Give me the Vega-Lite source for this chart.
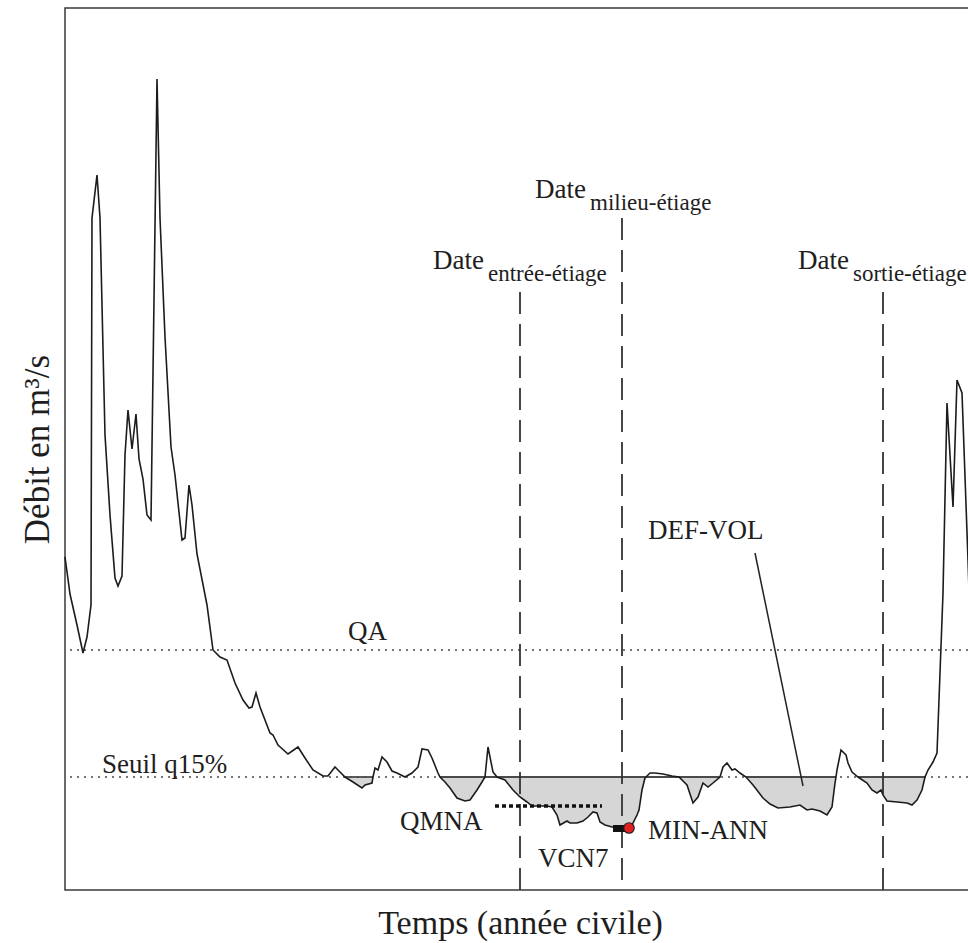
{
  "$schema": "https://vega.github.io/schema/vega-lite/v6.json",
  "width": 910,
  "height": 882,
  "autosize": "none",
  "padding": {"left": 65, "top": 8, "right": 0, "bottom": 53},
  "background": "white",
  "config": {
    "view": {"stroke": "#3a3a3a", "strokeWidth": 1.5},
    "axis": {"labels": false, "ticks": false, "domain": false, "grid": false, "titleFont": "Liberation Serif, serif", "titleFontSize": 34, "titleFontWeight": "normal", "titleColor": "#1e1e1e"},
    "axisX": {"titlePadding": 16},
    "axisY": {"titlePadding": 10, "titleFontSize": 35},
    "text": {"font": "Liberation Serif, serif"},
    "mark": {"font": "Liberation Serif, serif"}
  },
  "datasets": {
    "flow": [
      {"t": 0, "q": 333}, {"t": 5, "q": 296}, {"t": 12, "q": 265}, {"t": 18, "q": 237}, {"t": 22, "q": 253}, {"t": 26, "q": 285},
      {"t": 27, "q": 672}, {"t": 32, "q": 715}, {"t": 35, "q": 672}, {"t": 40, "q": 455}, {"t": 45, "q": 375}, {"t": 50, "q": 312},
      {"t": 53, "q": 304}, {"t": 57, "q": 314}, {"t": 60, "q": 435}, {"t": 63, "q": 480}, {"t": 67, "q": 441}, {"t": 71, "q": 476},
      {"t": 74, "q": 431}, {"t": 78, "q": 411}, {"t": 82, "q": 375}, {"t": 86, "q": 370}, {"t": 92, "q": 811}, {"t": 95, "q": 672},
      {"t": 100, "q": 553}, {"t": 106, "q": 443}, {"t": 110, "q": 415}, {"t": 117, "q": 350}, {"t": 120, "q": 352}, {"t": 124, "q": 405},
      {"t": 127, "q": 385}, {"t": 132, "q": 336}, {"t": 142, "q": 285}, {"t": 148, "q": 240}, {"t": 155, "q": 233}, {"t": 162, "q": 230},
      {"t": 170, "q": 207}, {"t": 178, "q": 190}, {"t": 184, "q": 182}, {"t": 187, "q": 183}, {"t": 191, "q": 197}, {"t": 195, "q": 183},
      {"t": 205, "q": 157}, {"t": 208, "q": 155}, {"t": 213, "q": 145}, {"t": 223, "q": 136}, {"t": 233, "q": 143}, {"t": 240, "q": 132},
      {"t": 248, "q": 120}, {"t": 258, "q": 114}, {"t": 263, "q": 114}, {"t": 270, "q": 123}, {"t": 273, "q": 120},
      {"t": 280, "q": 113, "seg": "A"}, {"t": 288, "q": 108, "seg": "A"}, {"t": 297, "q": 102, "seg": "A"}, {"t": 300, "q": 105, "seg": "A"}, {"t": 307, "q": 107, "seg": "A"}, {"t": 308, "q": 113, "seg": "A"},
      {"t": 310, "q": 122}, {"t": 313, "q": 120}, {"t": 317, "q": 133}, {"t": 322, "q": 128}, {"t": 327, "q": 119}, {"t": 332, "q": 117},
      {"t": 340, "q": 113}, {"t": 347, "q": 117}, {"t": 353, "q": 123}, {"t": 357, "q": 141}, {"t": 363, "q": 140}, {"t": 367, "q": 132}, {"t": 373, "q": 117},
      {"t": 375, "q": 113, "seg": "C"}, {"t": 380, "q": 108, "seg": "C"}, {"t": 385, "q": 102, "seg": "C"}, {"t": 392, "q": 92, "seg": "C"}, {"t": 400, "q": 89, "seg": "C"},
      {"t": 405, "q": 90, "seg": "C"}, {"t": 412, "q": 100, "seg": "C"}, {"t": 417, "q": 108, "seg": "C"}, {"t": 420, "q": 113, "seg": "C"},
      {"t": 423, "q": 143}, {"t": 428, "q": 118},
      {"t": 432, "q": 113, "seg": "D"}, {"t": 440, "q": 110, "seg": "D"}, {"t": 448, "q": 100, "seg": "D"}, {"t": 455, "q": 93, "seg": "D"}, {"t": 462, "q": 88, "seg": "D"},
      {"t": 467, "q": 84, "seg": "D"}, {"t": 473, "q": 84, "seg": "D"}, {"t": 482, "q": 84, "seg": "D"}, {"t": 487, "q": 83, "seg": "D"}, {"t": 492, "q": 75, "seg": "D"},
      {"t": 495, "q": 65, "seg": "D"}, {"t": 502, "q": 69, "seg": "D"}, {"t": 505, "q": 67, "seg": "D"}, {"t": 512, "q": 67, "seg": "D"}, {"t": 518, "q": 69, "seg": "D"},
      {"t": 523, "q": 73, "seg": "D"}, {"t": 528, "q": 78, "seg": "D"}, {"t": 532, "q": 77, "seg": "D"}, {"t": 535, "q": 68, "seg": "D"}, {"t": 540, "q": 65, "seg": "D"},
      {"t": 547, "q": 63, "seg": "D"}, {"t": 555, "q": 63, "seg": "D"}, {"t": 563, "q": 62, "seg": "D"}, {"t": 568, "q": 67, "seg": "D"}, {"t": 572, "q": 75, "seg": "D"},
      {"t": 574, "q": 80, "seg": "D"}, {"t": 577, "q": 100, "seg": "D"}, {"t": 580, "q": 112, "seg": "D"}, {"t": 581, "q": 113, "seg": "D"},
      {"t": 585, "q": 117}, {"t": 590, "q": 117}, {"t": 598, "q": 116}, {"t": 607, "q": 114},
      {"t": 614, "q": 113, "seg": "E"}, {"t": 622, "q": 105, "seg": "E"}, {"t": 628, "q": 87, "seg": "E"}, {"t": 633, "q": 93, "seg": "E"}, {"t": 638, "q": 107, "seg": "E"},
      {"t": 643, "q": 103, "seg": "E"}, {"t": 648, "q": 107, "seg": "E"}, {"t": 655, "q": 113, "seg": "E"},
      {"t": 658, "q": 123}, {"t": 662, "q": 127}, {"t": 667, "q": 120}, {"t": 670, "q": 121}, {"t": 675, "q": 117},
      {"t": 681, "q": 113, "seg": "F"}, {"t": 688, "q": 105, "seg": "F"}, {"t": 698, "q": 92, "seg": "F"}, {"t": 705, "q": 86, "seg": "F"}, {"t": 713, "q": 82, "seg": "F"},
      {"t": 725, "q": 83, "seg": "F"}, {"t": 735, "q": 85, "seg": "F"}, {"t": 742, "q": 80, "seg": "F"}, {"t": 747, "q": 81, "seg": "F"}, {"t": 755, "q": 79, "seg": "F"},
      {"t": 762, "q": 75, "seg": "F"}, {"t": 767, "q": 83, "seg": "F"}, {"t": 770, "q": 107, "seg": "F"}, {"t": 771, "q": 113, "seg": "F"},
      {"t": 772, "q": 120}, {"t": 776, "q": 140}, {"t": 781, "q": 135}, {"t": 783, "q": 127}, {"t": 787, "q": 118},
      {"t": 793, "q": 113, "seg": "G"}, {"t": 802, "q": 107, "seg": "G"}, {"t": 807, "q": 100, "seg": "G"}, {"t": 812, "q": 97, "seg": "G"}, {"t": 816, "q": 100, "seg": "G"},
      {"t": 818, "q": 95, "seg": "G"}, {"t": 822, "q": 89, "seg": "G"}, {"t": 832, "q": 88, "seg": "G"}, {"t": 842, "q": 87, "seg": "G"}, {"t": 847, "q": 85, "seg": "G"},
      {"t": 852, "q": 90, "seg": "G"}, {"t": 857, "q": 100, "seg": "G"}, {"t": 860, "q": 113, "seg": "G"},
      {"t": 863, "q": 120}, {"t": 868, "q": 128}, {"t": 872, "q": 137}, {"t": 878, "q": 297}, {"t": 882, "q": 487}, {"t": 888, "q": 383},
      {"t": 892, "q": 510}, {"t": 897, "q": 497}, {"t": 903, "q": 330}, {"t": 907, "q": 210}
    ],
    "hlines": [{"name": "QA", "q": 240}, {"name": "Seuil q15%", "q": 113}],
    "solid": [{"t": 280, "t2": 308}, {"t": 375, "t2": 655}, {"t": 681, "t2": 771}, {"t": 793, "t2": 860}],
    "vlines": [{"name": "entrée", "t": 455, "q": 598}, {"name": "milieu", "t": 557, "q": 672}, {"name": "sortie", "t": 818, "q": 598}],
    "qmna": [{"t": 430, "t2": 537, "q": 84}],
    "leader": [{"t": 690, "q": 337, "t2": 738, "q2": 104}],
    "vcn7": [{"t": 548, "t2": 560, "q": 58, "q2": 65}],
    "minann": [{"t": 564, "q": 62}],
    "labels": [
      {"text": "QA", "t": 283, "q": 250},
      {"text": "Seuil q15%", "t": 37, "q": 117},
      {"text": "QMNA", "t": 335, "q": 60},
      {"text": "VCN7", "t": 473, "q": 23},
      {"text": "MIN-ANN", "t": 583, "q": 51},
      {"text": "DEF-VOL", "t": 583, "q": 351},
      {"text": "Date", "t": 368, "q": 621},
      {"text": "Date", "t": 470, "q": 692},
      {"text": "Date", "t": 733, "q": 621}
    ],
    "subs": [
      {"text": "entrée-étiage", "t": 423, "q": 609},
      {"text": "milieu-étiage", "t": 525, "q": 680},
      {"text": "sortie-étiage", "t": 788, "q": 609}
    ]
  },
  "layer": [
    {
      "data": {"name": "flow"},
      "transform": [{"filter": "isValid(datum.seg)"}],
      "mark": {"type": "area", "color": "#d6d6d6", "opacity": 1},
      "encoding": {
        "x": {"field": "t", "type": "quantitative", "scale": {"domain": [0, 910], "nice": false, "zero": false}, "title": "Temps (année civile)"},
        "y": {"field": "q", "type": "quantitative", "scale": {"domain": [0, 882], "nice": false, "zero": false}, "title": "Débit en m³/s"},
        "y2": {"datum": 113},
        "detail": {"field": "seg"}
      }
    },
    {
      "data": {"name": "hlines"},
      "mark": {"type": "rule", "color": "#4a4a4a", "strokeWidth": 1.6, "strokeDash": [2, 5]},
      "encoding": {
        "y": {"field": "q", "type": "quantitative", "title": "Débit en m³/s"}
      }
    },
    {
      "data": {"name": "solid"},
      "mark": {"type": "rule", "color": "#4a4a4a", "strokeWidth": 1.8},
      "encoding": {
        "x": {"field": "t", "type": "quantitative", "title": "Temps (année civile)"},
        "x2": {"field": "t2"},
        "y": {"datum": 113, "type": "quantitative"}
      }
    },
    {
      "data": {"name": "vlines"},
      "mark": {"type": "rule", "color": "#333333", "strokeWidth": 1.8, "strokeDash": [22, 10]},
      "encoding": {
        "x": {"field": "t", "type": "quantitative", "title": "Temps (année civile)"},
        "y": {"field": "q", "type": "quantitative", "title": "Débit en m³/s"},
        "y2": {"datum": 0}
      }
    },
    {
      "data": {"name": "flow"},
      "mark": {"type": "line", "color": "#1c1c1c", "strokeWidth": 1.6},
      "encoding": {
        "x": {"field": "t", "type": "quantitative", "title": "Temps (année civile)"},
        "y": {"field": "q", "type": "quantitative", "title": "Débit en m³/s"}
      }
    },
    {
      "data": {"name": "qmna"},
      "mark": {"type": "rule", "color": "#111111", "strokeWidth": 3.5, "strokeDash": [4, 3]},
      "encoding": {
        "x": {"field": "t", "type": "quantitative", "title": "Temps (année civile)"},
        "x2": {"field": "t2"},
        "y": {"field": "q", "type": "quantitative", "title": "Débit en m³/s"}
      }
    },
    {
      "data": {"name": "leader"},
      "mark": {"type": "rule", "color": "#222222", "strokeWidth": 1.5},
      "encoding": {
        "x": {"field": "t", "type": "quantitative", "title": "Temps (année civile)"},
        "x2": {"field": "t2"},
        "y": {"field": "q", "type": "quantitative", "title": "Débit en m³/s"},
        "y2": {"field": "q2"}
      }
    },
    {
      "data": {"name": "vcn7"},
      "mark": {"type": "rect", "color": "#111111"},
      "encoding": {
        "x": {"field": "t", "type": "quantitative", "title": "Temps (année civile)"},
        "x2": {"field": "t2"},
        "y": {"field": "q", "type": "quantitative", "title": "Débit en m³/s"},
        "y2": {"field": "q2"}
      }
    },
    {
      "data": {"name": "minann"},
      "mark": {"type": "point", "shape": "circle", "filled": true, "size": 110, "fill": "#e4201e", "stroke": "#222222", "strokeWidth": 1.2, "opacity": 1},
      "encoding": {
        "x": {"field": "t", "type": "quantitative", "title": "Temps (année civile)"},
        "y": {"field": "q", "type": "quantitative", "title": "Débit en m³/s"}
      }
    },
    {
      "data": {"name": "labels"},
      "mark": {"type": "text", "font": "Liberation Serif, serif", "fontSize": 27, "align": "left", "baseline": "alphabetic", "color": "#1e1e1e"},
      "encoding": {
        "x": {"field": "t", "type": "quantitative", "title": "Temps (année civile)"},
        "y": {"field": "q", "type": "quantitative", "title": "Débit en m³/s"},
        "text": {"field": "text"}
      }
    },
    {
      "data": {"name": "subs"},
      "mark": {"type": "text", "font": "Liberation Serif, serif", "fontSize": 23, "align": "left", "baseline": "alphabetic", "color": "#1e1e1e"},
      "encoding": {
        "x": {"field": "t", "type": "quantitative", "title": "Temps (année civile)"},
        "y": {"field": "q", "type": "quantitative", "title": "Débit en m³/s"},
        "text": {"field": "text"}
      }
    }
  ]
}
